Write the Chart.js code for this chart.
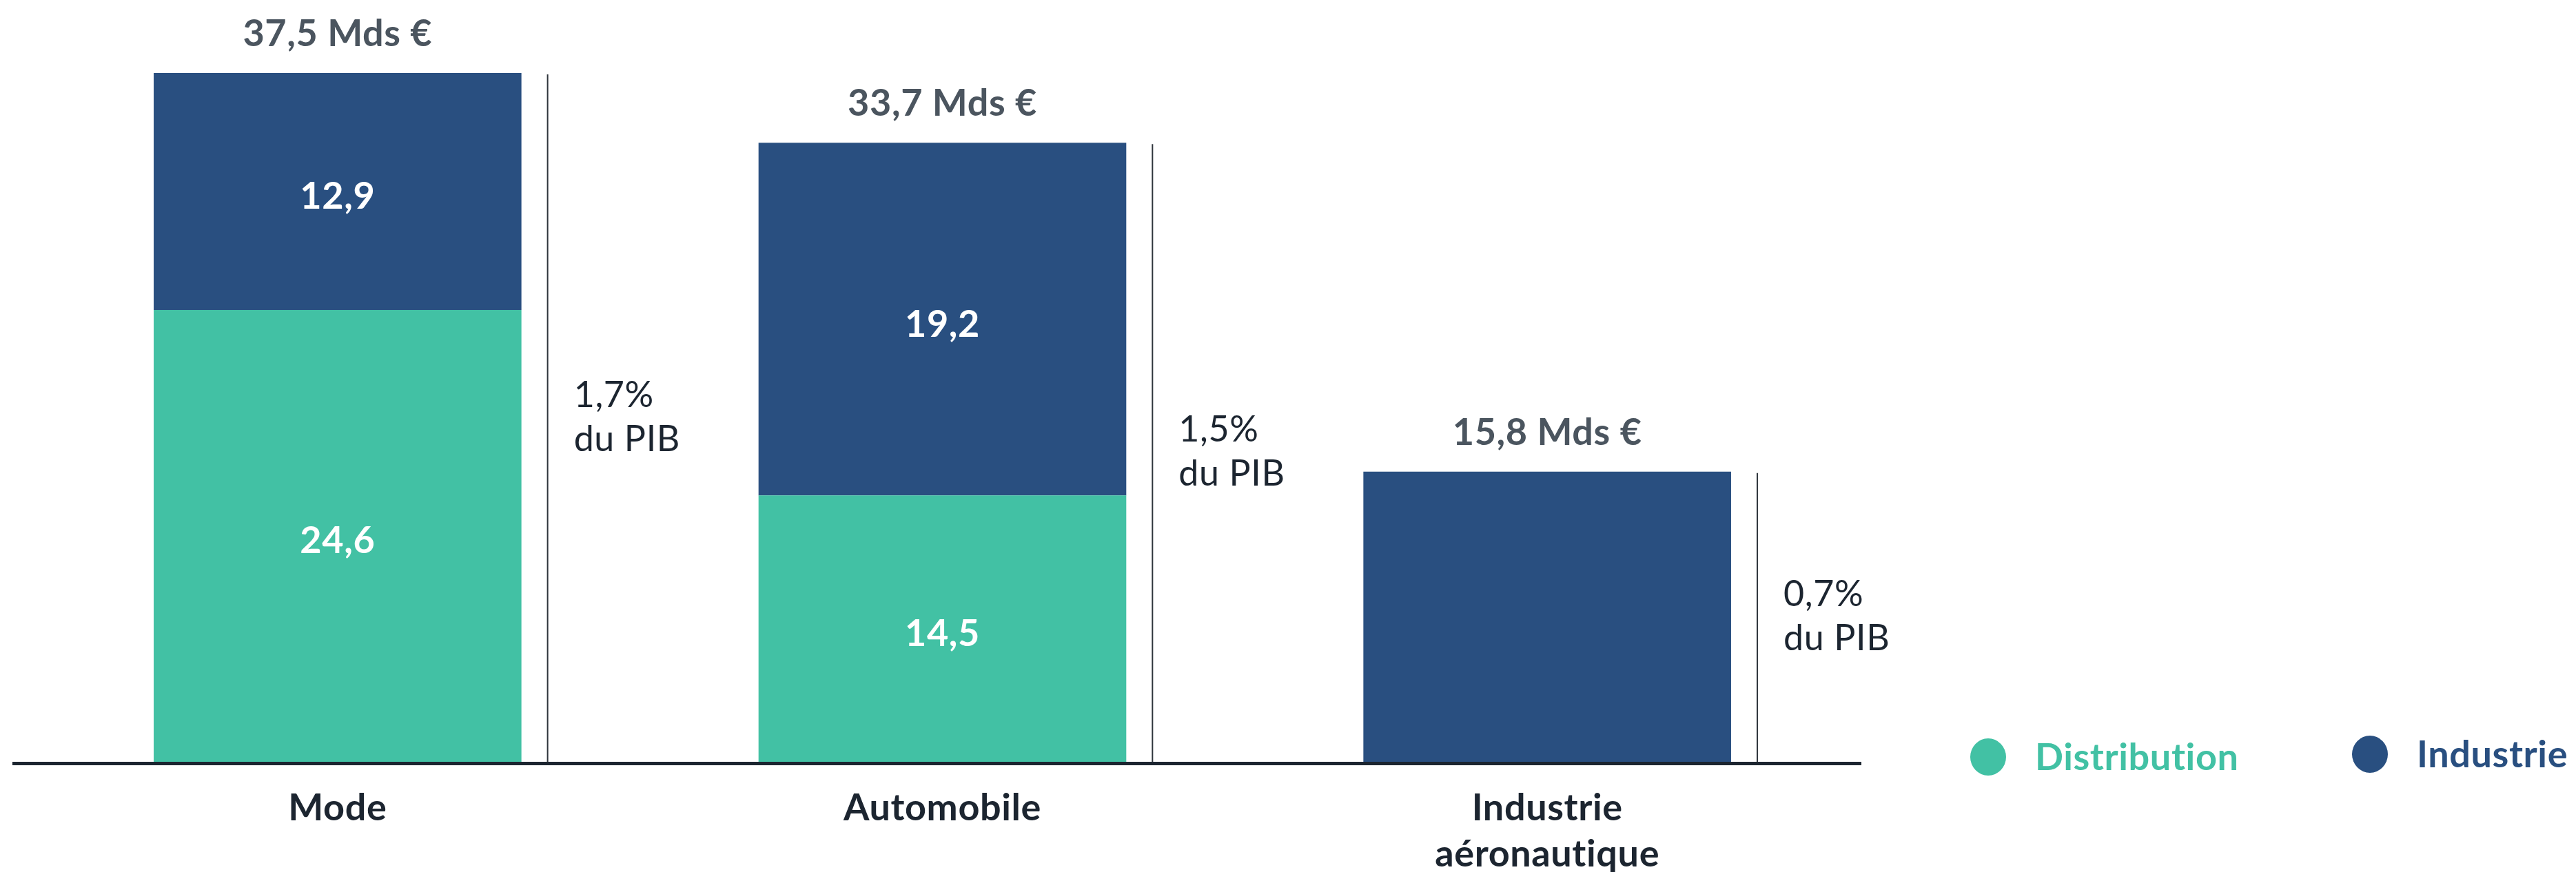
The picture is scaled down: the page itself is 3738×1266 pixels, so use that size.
<!DOCTYPE html>
<html><head><meta charset="utf-8">
<script src="https://cdn.jsdelivr.net/npm/chart.js@4/dist/chart.umd.min.js"></script>
<style>html,body{margin:0;padding:0;background:#fff;}#wrap{width:3738px;height:1266px;}</style>
</head><body><div id="wrap"><canvas id="c" width="3738" height="1266"></canvas></div>
<script>
const categories = [['Mode'], ['Automobile'], ['Industrie', 'aéronautique']];
const distribution = [24.6, 14.5, null];
const industrie = [12.9, 19.2, 15.8];
const totalLabels = ['37,5 Mds €', '33,7 Mds €', '15,8 Mds €'];
const pibLabels = [['1,7%', 'du PIB'], ['1,5%', 'du PIB'], ['0,7%', 'du PIB']];
const seriesNames = ['Distribution', 'Industrie'];
const colors = ['#42c1a4', '#294f80'];

const FONT = 'Lato, "Open Sans", sans-serif';

const fmt = v => String(v).replace('.', ',');

const noLigatures = {
  id: 'noLigatures',
  beforeDraw(chart) { chart.ctx.letterSpacing = '0.6px'; }
};

const overlay = {
  id: 'overlay',
  afterDatasetsDraw(chart) {
    const ctx = chart.ctx;
    const area = chart.chartArea;
    const m0 = chart.getDatasetMeta(0), m1 = chart.getDatasetMeta(1);
    ctx.save();
    ctx.letterSpacing = '0.6px';
    // value labels in bars (only for stacked, two-segment bars)
    ctx.font = 'bold 54px ' + FONT;
    ctx.fillStyle = '#ffffff';
    ctx.textAlign = 'center';
    ctx.textBaseline = 'middle';
    [m0, m1].forEach((meta, di) => {
      meta.data.forEach((el, i) => {
        const v = chart.data.datasets[di].data[i];
        if (v == null) return;
        if (distribution[i] == null) return;
        ctx.fillText(fmt(v), el.x, (el.y + el.base) / 2 + 8);
      });
    });
    // totals, vertical lines, PIB labels
    categories.forEach((c, i) => {
      const top = m1.data[i];
      const topY = top.y;
      const right = top.x + top.width / 2;
      ctx.font = 'bold 54px ' + FONT;
      ctx.fillStyle = '#4b555f';
      ctx.textAlign = 'center';
      ctx.textBaseline = 'alphabetic';
      ctx.fillText(totalLabels[i], top.x, topY - 39);
      const lx = right + 38;
      ctx.strokeStyle = '#2f353c';
      ctx.lineWidth = 2;
      ctx.beginPath();
      ctx.moveTo(lx, topY + 2);
      ctx.lineTo(lx, area.bottom);
      ctx.stroke();
      const mid = (topY + area.bottom) / 2;
      ctx.font = '52px ' + FONT;
      ctx.fillStyle = '#1c2530';
      ctx.textAlign = 'left';
      ctx.textBaseline = 'middle';
      ctx.fillText(pibLabels[i][0], lx + 38, mid - 32);
      ctx.fillText(pibLabels[i][1], lx + 38, mid + 32);
    });
    // axis line
    ctx.fillStyle = '#1c2530';
    ctx.fillRect(18, area.bottom, 2701 - 18, 5);
    // legend
    const legendX = [2885, 3439];
    const legendY = [1099, 1095];
    chart.data.datasets.forEach((ds, i) => {
      ctx.fillStyle = ds.backgroundColor;
      ctx.beginPath();
      ctx.ellipse(legendX[i], legendY[i], 26, 27, 0, 0, Math.PI * 2);
      ctx.fill();
      ctx.font = 'bold 54px ' + FONT;
      ctx.textAlign = 'left';
      ctx.textBaseline = 'middle';
      ctx.fillText(ds.label, legendX[i] + 68, legendY[i] + 2);
    });
    ctx.restore();
  }
};

new Chart(document.getElementById('c'), {
  type: 'bar',
  data: {
    labels: categories,
    datasets: [
      { label: seriesNames[0], data: distribution, backgroundColor: colors[0] },
      { label: seriesNames[1], data: industrie, backgroundColor: colors[1] }
    ]
  },
  options: {
    responsive: false,
    animation: false,
    devicePixelRatio: 1,
    layout: { padding: { left: 51, right: 1054, top: 106, bottom: 0 } },
    plugins: { legend: { display: false }, tooltip: { enabled: false } },
    datasets: { bar: { categoryPercentage: 1, barPercentage: 0.608, borderWidth: 0 } },
    scales: {
      x: {
        stacked: true,
        grid: { display: false, drawTicks: false },
        border: { display: false },
        ticks: { color: '#1c2530', font: { family: FONT, size: 54, weight: 'bold', lineHeight: 1.24 }, padding: 34, maxRotation: 0, autoSkip: false },
        afterFit: s => { s.height = 160; }
      },
      y: { stacked: true, display: false, min: 0, max: 37.5 }
    }
  },
  plugins: [noLigatures, overlay]
});
</script></body></html>
